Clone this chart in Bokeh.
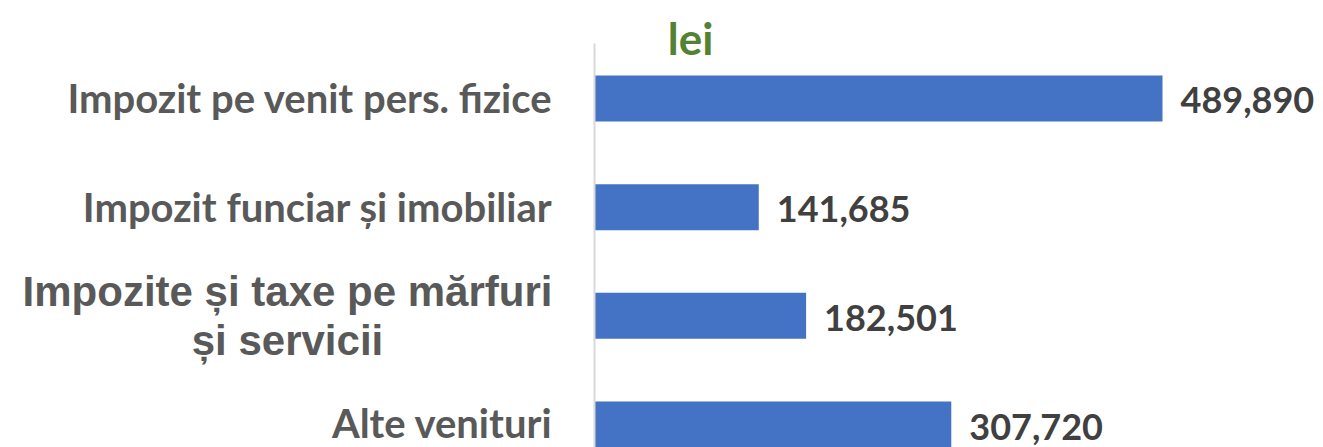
from bokeh.plotting import figure
from bokeh.models import Range1d, Label, ColumnDataSource
from bokeh.embed import file_html
from bokeh.resources import INLINE
from bokeh.core.properties import value

categories = ["Impozit pe venit pers. fizice", "Impozit funciar și imobiliar",
              "Impozite și taxe pe mărfuri\nși servicii", "Alte venituri"]
values = [489890, 141685, 182501, 307720]
value_labels = ["489,890", "141,685", "182,501", "307,720"]
unit_label = "lei"

pos = list(range(len(categories)))
src = ColumnDataSource(dict(y=pos, v=values, lab=value_labels))

p = figure(width=1323, height=447, output_backend="svg", toolbar_location=None,
           x_range=Range1d(-512316, 628750), y_range=Range1d(3.2116, -0.9016),
           min_border=0)
p.outline_line_color = None
p.grid.visible = False
p.xaxis.visible = False
p.yaxis.fixed_location = 0
p.yaxis.bounds = (-0.506, 3.3)
p.yaxis.ticker = []
p.yaxis.major_tick_line_color = None
p.yaxis.minor_tick_line_color = None
p.yaxis.axis_line_color = "#d9d9d9"
p.yaxis.axis_line_width = 2
p.background_fill_color = "white"
p.border_fill_color = "white"

p.hbar(y="y", right="v", left=0, height=0.423, source=src, color="#4472c4", line_color=None)
p.text(x="v", y="y", text="lab", source=src, x_offset=18, y_offset=2, text_baseline="middle",
       text_font=value("Lato"), text_font_style="bold", text_font_size="36px",
       text_color="#404040")

fonts = ["Lato", "Lato", "Liberation Sans", "Lato"]
sizes = ["40px", "40px", "42px", "40px"]
offs = [-42, -42, -307, -42]
yoffs = [0, 0, 0, -2]
aligns = ["right", "right", "center", "right"]
for i, c in enumerate(categories):
    p.text(x=[0], y=[pos[i]], text=[c], x_offset=offs[i], y_offset=yoffs[i],
           text_align=aligns[i], text_baseline="middle", text_font=value(fonts[i]),
           text_font_style="bold", text_font_size=sizes[i], text_color="#595959",
           text_line_height=1.05)

p.add_layout(Label(x=690, y=447 - 37, x_units="screen", y_units="screen", text=unit_label,
                   text_align="center", text_baseline="middle", text_font="Lato",
                   text_font_style="bold", text_font_size="44px", text_color="#548235"))

open("out.html", "w").write(file_html(p, INLINE))
